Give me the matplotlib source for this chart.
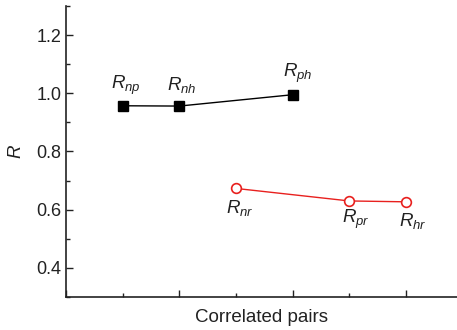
import matplotlib
matplotlib.use("Agg")
import matplotlib.pyplot as plt
from matplotlib.ticker import MultipleLocator

plt.rcParams['font.family'] = ['Liberation Sans', 'DejaVu Sans']
plt.rcParams['mathtext.fontset'] = 'custom'
plt.rcParams['mathtext.it'] = 'Liberation Sans:italic'
plt.rcParams['mathtext.rm'] = 'Liberation Sans'

# data
black_x = [1, 2, 4]
black_y = [0.957, 0.956, 0.995]
black_labels = ['$R_{np}$', '$R_{nh}$', '$R_{ph}$']
red_x = [3, 5, 6]
red_y = [0.673, 0.630, 0.627]
red_labels = ['$R_{nr}$', '$R_{pr}$', '$R_{hr}$']

fig = plt.figure(figsize=(4.57, 3.30), dpi=100)
ax = fig.add_axes([0.1444, 0.1, 0.8556, 0.882])
ax.plot(black_x, black_y, '-s', color='black', lw=1.0, markersize=7, zorder=3)
ax.plot(red_x, red_y, '-o', color='#e8201e', lw=1.0, markersize=7,
        markerfacecolor='white', markeredgewidth=1.2, zorder=3)

offs_b = [(2, 15), (2, 15), (4, 15)]
for x, y, t, o in zip(black_x, black_y, black_labels, offs_b):
    ax.annotate(t, (x, y), xytext=o, textcoords='offset points', ha='center', va='center', fontsize=13.5, color='#222222')
offs_r = [(3, -14), (5, -13), (5, -14)]
for x, y, t, o in zip(red_x, red_y, red_labels, offs_r):
    ax.annotate(t, (x, y), xytext=o, textcoords='offset points', ha='center', va='center', fontsize=13.5, color='#222222')

ax.set_xlim(0, 6.9)
ax.set_ylim(0.3, 1.3)
ax.yaxis.set_minor_locator(MultipleLocator(0.1))
ax.set_yticks([0.4, 0.6, 0.8, 1.0, 1.2])
ax.xaxis.set_major_locator(MultipleLocator(2))
ax.xaxis.set_minor_locator(MultipleLocator(1))
ax.tick_params(which='both', direction='in', width=1.0, color='#222222')
ax.tick_params(which='major', length=5, labelsize=13, labelcolor='#222222')
ax.tick_params(which='minor', length=3)
ax.tick_params(axis='x', which='both', labelbottom=False)
for s in ['top', 'right']:
    ax.spines[s].set_visible(False)
for s in ['left', 'bottom']:
    ax.spines[s].set_linewidth(1.2)
    ax.spines[s].set_color('#222222')
ax.set_ylabel('$R$', fontsize=13.5, color='#222222', labelpad=8)
ax.set_xlabel('Correlated pairs', fontsize=13.5, color='#222222', labelpad=9)
fig.savefig('out.png', dpi=100)
